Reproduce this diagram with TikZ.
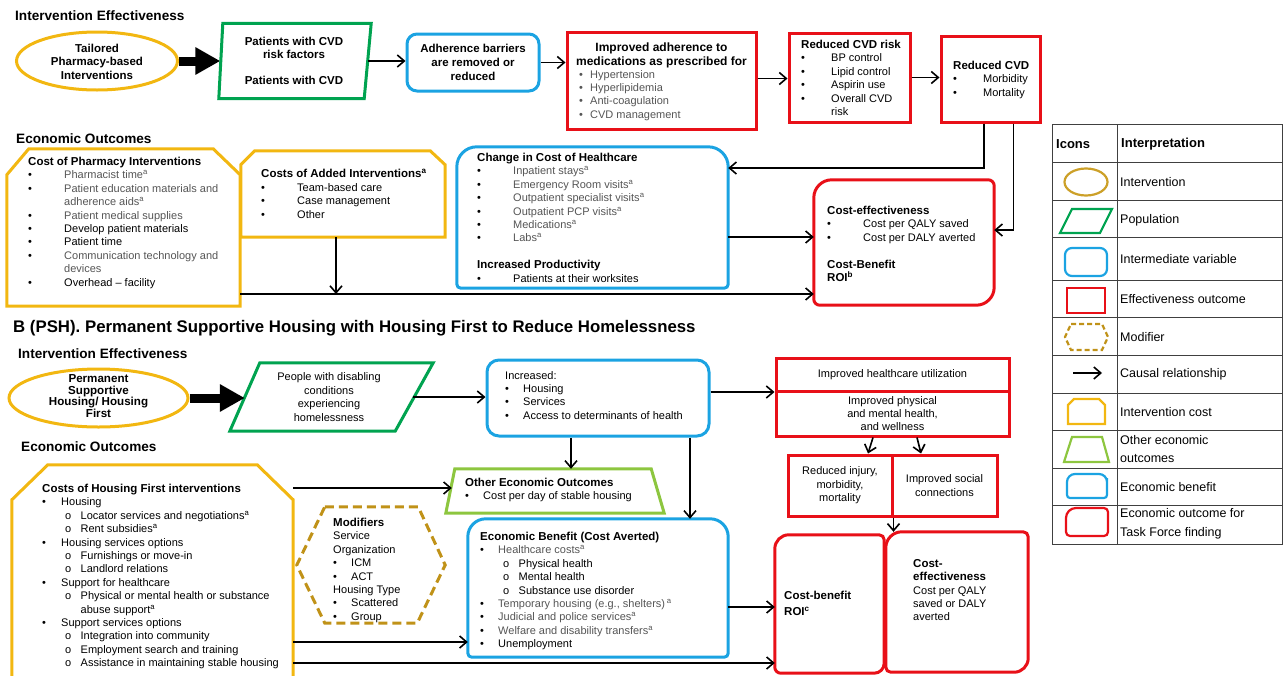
\documentclass[tikz,border=0pt]{standalone}
\usepackage{fontspec}
\setmainfont{Liberation Sans}
\usepackage{xcolor}
\usepackage{tikz}
\usetikzlibrary{shapes.geometric, arrows.meta}

\definecolor{ivncol}{RGB}{242,183,17}
\definecolor{ivnleg}{RGB}{204,160,40}
\definecolor{popcol}{RGB}{0,163,80}
\definecolor{midcol}{RGB}{27,163,226}
\definecolor{effcol}{RGB}{232,16,24}
\definecolor{othcol}{RGB}{141,198,63}
\definecolor{modcol}{RGB}{192,146,24}
\definecolor{txtgray}{RGB}{85,85,85}

\newcommand{\ttl}[1]{{\fontsize{11.5}{13.4}\selectfont\bfseries #1}}
\newcommand{\gr}[1]{\textcolor{txtgray}{#1}}
\newcommand{\bul}[2][36pt]{\makebox[#1][l]{\textbullet}#2}
\newcommand{\subit}[1]{\hspace*{23pt}\makebox[15.5pt][l]{o}#1}
\newcommand{\supa}{\textsuperscript{a}}

\begin{document}
\begin{tikzpicture}[x=1pt, y=-1pt,
  every node/.style={inner sep=0pt, font=\fontsize{11}{13.4}\selectfont},
  sz/.style 2 args={minimum width=#1pt, minimum height=#2pt},
  hdr/.style={anchor=west, font=\fontsize{13.6}{16}\selectfont\bfseries},
  txt/.style={anchor=north west, align=left},
  ivn/.style={ellipse, draw=ivncol, line width=3pt},
  ivntxt/.style={align=center, font=\fontsize{11.5}{13.5}\selectfont\bfseries},
  midbox/.style={rectangle, rounded corners=10pt, draw=midcol, line width=3pt, align=center},
  effbox/.style={rectangle, draw=effcol, line width=3pt, align=center},
  costline/.style={draw=ivncol, line width=3pt},
  popline/.style={draw=popcol, line width=3pt},
  benline/.style={draw=midcol, line width=3pt},
  taskline/.style={draw=effcol, line width=3pt},
  othline/.style={draw=othcol, line width=3pt},
  modline/.style={draw=modcol, line width=3pt, dash pattern=on 9pt off 5pt},
  arr/.style={-{Straight Barb[length=7pt,width=12pt]}, line width=1.6pt},
  fat/.style={-{Triangle[length=25pt,width=26pt]}, line width=9pt},
  legline/.style={draw=black!75, line width=0.8pt},
  legtxt/.style={anchor=west, align=left, font=\fontsize{12.5}{18.5}\selectfont}
]
  \useasboundingbox (0,0) rectangle (1283,675);

  % ── A: intervention effectiveness ─────────────────────────────
  \node[hdr] (effA) at (15,16) {Intervention Effectiveness};
  \node[ivn, sz={161}{58}] (tailored) at (97,61) {};
  \node[ivntxt] (tailoredT) at (97,61.5) {Tailored\\Pharmacy-based\\Interventions};

  \node[sz={147}{75}, align=center, font=\fontsize{11.5}{12.5}\selectfont\bfseries] (popA) at (294,61)
        {Patients with CVD\\risk factors\\[14pt]Patients with CVD};
  \draw[popline] ([xshift=-1.5pt]popA.south west) -- ([xshift=2.5pt]popA.north west)
        -- ([xshift=3.5pt]popA.north east) -- ([xshift=-3.5pt]popA.south east) -- cycle;

  \node[midbox, sz={132}{57}, font=\fontsize{11.5}{14}\selectfont\bfseries] (adh) at (473,62.5)
        {Adherence barriers\\are removed or\\reduced};

  \node[effbox, sz={189}{97}] (med) at (661.5,80.5) {};
  \node[anchor=north, align=center, font=\fontsize{12}{14}\selectfont\bfseries] (medT) at (661.5,43)
        {Improved adherence to\\medications as prescribed for};
  \node[txt, text=txtgray] (medL) at (579,70)
        {\bul[11pt]{Hypertension}\\\bul[11pt]{Hyperlipidemia}\\\bul[11pt]{Anti-coagulation}\\\bul[11pt]{CVD management}};

  \node[effbox, sz={121}{89}] (risk) at (849.5,77.5) {};
  \node[txt] (riskL) at (801,40)
        {\ttl{Reduced CVD risk}\\\bul[30pt]{BP control}\\\bul[30pt]{Lipid control}\\\bul[30pt]{Aspirin use}\\\bul[30pt]{Overall CVD}\\\hspace*{30pt}risk};

  \node[effbox, sz={99}{86}] (cvd) at (990.5,79) {};
  \node[txt] (cvdL) at (953,61) {\ttl{Reduced CVD}\\\bul[30pt]{Morbidity}\\\bul[30pt]{Mortality}};

  % ── A: economic outcomes ──────────────────────────────────────
  \node[hdr] (ecoA) at (16,139) {Economic Outcomes};

  \node[sz={233}{157}] (costph) at (123.5,227.5) {};
  \draw[costline] (costph.south west) -- ([yshift=-26pt]costph.north west)
        -- ([xshift=22pt]costph.north west) -- ([xshift=-27pt]costph.north east)
        -- ([yshift=-26pt]costph.north east) -- (costph.south east) -- cycle;
  \node[txt] (costphL) at (28,157)
        {\ttl{Cost of Pharmacy Interventions}\\
         \bul{\gr{Pharmacist time\supa}}\\
         \bul{\gr{Patient education materials and}}\\
         \hspace*{36pt}\gr{adherence aids\supa}\\
         \bul{\gr{Patient medical supplies}}\\
         \bul{Develop patient materials}\\
         \bul{Patient time}\\
         \bul{\gr{Communication technology and}}\\
         \hspace*{36pt}\gr{devices}\\
         \bul{Overhead -- facility}};

  \node[sz={204}{86}] (costadd) at (343,194) {};
  \draw[costline] (costadd.south west) -- ([yshift=-14pt]costadd.north west)
        -- ([xshift=14pt]costadd.north west) -- ([xshift=-15pt]costadd.north east)
        -- ([yshift=-14pt]costadd.north east) -- (costadd.south east) -- cycle;
  \node[txt] (costaddL) at (261,169)
        {\ttl{Costs of Added Interventions\supa}\\\bul{Team-based care}\\\bul{Case management}\\\bul{Other}};

  \node[sz={271}{141}] (chg) at (592.5,217.5) {};
  \draw[benline] (chg.west) [rounded corners=20pt] |- (chg.north) -| (chg.east)
        [rounded corners=4pt] |- (chg.south) -| (chg.west);
  \node[txt] (chgL) at (477,153)
        {\ttl{Change in Cost of Healthcare}\\
         \bul{\gr{Inpatient stays\supa}}\\
         \bul{\gr{Emergency Room visits\supa}}\\
         \bul{\gr{Outpatient specialist visits\supa}}\\
         \bul{\gr{Outpatient PCP visits\supa}}\\
         \bul{\gr{Medications\supa}}\\
         \bul{\gr{Labs\supa}}\\[13.4pt]
         \ttl{Increased Productivity}\\
         \bul{Patients at their worksites}};

  \node[sz={180}{125}] (ceA) at (904,242.5) {};
  \draw[taskline] (ceA.west) [rounded corners=18pt] |- (ceA.north) [rounded corners=6pt] -| (ceA.east)
        [rounded corners=18pt] |- (ceA.south) [rounded corners=6pt] -| (ceA.west);
  \node[txt] (ceAL) at (827,206)
        {\ttl{Cost-effectiveness}\\\bul{Cost per QALY saved}\\\bul{Cost per DALY averted}\\[13.4pt]
         \ttl{Cost-Benefit}\\\ttl{ROI\textsuperscript{b}}};

  % ── A: arrows ─────────────────────────────────────────────────
  \draw[fat] (tailored.east) -- (tailored.east -| popA.west);
  \draw[arr] (popA.east) -- (popA.east -| adh.west);
  \draw[arr] (adh.east) -- (adh.east -| med.west);
  \draw[arr] ([yshift=2pt]med.east) -- ([yshift=2pt]med.east -| risk.west);
  \draw[arr] (risk.east) -- (risk.east -| cvd.west);
  \draw[arr] ([xshift=-6.5pt]cvd.south) |- ([yshift=49.5pt]chg.east);
  \draw[arr] ([xshift=23pt]cvd.south) |- ([yshift=12.5pt]ceA.east);
  \draw[arr] ([yshift=-19.5pt]chg.east) -- ([yshift=-19.5pt]chg.east -| ceA.west);
  \coordinate (lowA) at ([yshift=-66.5pt]costph.east);
  \draw[arr] (lowA) -- (lowA -| ceA.west);
  \draw[arr] ([xshift=-7pt]costadd.south) -- ([xshift=-7pt]costadd.south |- lowA);

  % ── B: intervention effectiveness ─────────────────────────────
  \node[hdr, font=\fontsize{16.8}{19}\selectfont\bfseries] (titleB) at (13,328)
        {B (PSH). Permanent Supportive Housing with Housing First to Reduce Homelessness};
  \node[hdr] (effB) at (18,354) {Intervention Effectiveness};
  \node[ivn, sz={179}{58}] (housing) at (98.5,398) {};
  \node[ivntxt, font=\fontsize{11.6}{11.7}\selectfont\bfseries] (housingT) at (98.5,396)
        {Permanent\\Supportive\\Housing/ Housing\\First};

  \node[sz={168}{68}, align=center] (popB) at (329,397)
        {People with disabling\\conditions\\experiencing\\homelessness};
  \draw[popline] ([xshift=15pt]popB.north west) -- ([xshift=20pt]popB.north east)
        -- ([xshift=-18pt]popB.south east) -- ([xshift=-15pt]popB.south west) -- cycle;

  \node[midbox, sz={222}{76}, rounded corners=12pt] (incr) at (598,398) {};
  \node[txt] (incrL) at (505,371)
        {Increased:\\\bul[18pt]{Housing}\\\bul[18pt]{Services}\\\bul[18pt]{Access to determinants of health}};

  \node[effbox, sz={233}{33}] (hcu) at (892.5,374.5) {Improved healthcare utilization};
  \node[effbox, sz={233}{45}, font=\fontsize{11}{13}\selectfont] (phys) at (892.5,413.5)
        {Improved physical\\and mental health,\\and wellness};
  \node[effbox, sz={104}{61}] (inj) at (840,485.5) {Reduced injury,\\morbidity,\\mortality};
  \node[effbox, sz={105}{61}] (soc) at (944.5,485.5) {Improved social\\connections};

  % ── B: economic outcomes ──────────────────────────────────────
  \node[hdr] (ecoB) at (21,447) {Economic Outcomes};

  \node[sz={281}{225}] (costhf) at (152.5,577.5) {};
  \draw[costline] (costhf.south west) -- ([yshift=-35pt]costhf.north west)
        -- ([xshift=36pt]costhf.north west) -- ([xshift=-36pt]costhf.north east)
        -- ([yshift=-35pt]costhf.north east) -- (costhf.south east) -- cycle;
  \node[txt] (costhfL) at (42,484)
        {\ttl{Costs of Housing First interventions}\\
         \bul[19pt]{Housing}\\
         \subit{Locator services and negotiations\supa}\\
         \subit{Rent subsidies\supa}\\
         \bul[19pt]{Housing services options}\\
         \subit{Furnishings or move-in}\\
         \subit{Landlord relations}\\
         \bul[19pt]{Support for healthcare}\\
         \subit{Physical or mental health or substance}\\
         \hspace*{38.5pt}abuse support\supa\\
         \bul[19pt]{Support services options}\\
         \subit{Integration into community}\\
         \subit{Employment search and training}\\
         \subit{Assistance in maintaining stable housing}};

  \node[sz={218}{44}] (othe) at (555,491) {};
  \draw[othline] ([xshift=9pt]othe.north west) -- ([xshift=-13pt]othe.north east)
        -- (othe.south east) -- (othe.south west) -- cycle;
  \node[txt] (otheL) at (465,478)
        {\ttl{Other Economic Outcomes}\\\bul[18pt]{Cost per day of stable housing}};

  \node[sz={148}{116}] (mod) at (371,565) {};
  \draw[modline] ([xshift=28pt]mod.north west) -- ([xshift=-27pt]mod.north east) -- (mod.east)
        -- ([xshift=-28pt]mod.south east) -- ([xshift=28pt]mod.south west) -- (mod.west) -- cycle;
  \node[txt] (modL) at (333,518)
        {\ttl{Modifiers}\\Service\\Organization\\\bul[18pt]{ICM}\\\bul[18pt]{ACT}\\
         Housing Type\\\bul[18pt]{Scattered}\\\bul[18pt]{Group}};

  \node[sz={260}{138}] (econ) at (598,588) {};
  \draw[benline] (econ.west) [rounded corners=18pt] |- (econ.north) -| (econ.east)
        [rounded corners=4pt] |- (econ.south) -| (econ.west);
  \node[txt] (econL) at (480,532)
        {\ttl{Economic Benefit (Cost Averted)}\\
         \bul[18pt]{\gr{Healthcare costs\supa}}\\
         \subit{Physical health}\\
         \subit{Mental health}\\
         \subit{Substance use disorder}\\
         \bul[18pt]{\gr{Temporary housing (e.g., shelters)\,\supa}}\\
         \bul[18pt]{\gr{Judicial and police services\supa}}\\
         \bul[18pt]{\gr{Welfare and disability transfers\supa}}\\
         \bul[18pt]{Unemployment}};

  \node[sz={109}{138}] (cb) at (829.5,604) {};
  \draw[taskline] (cb.west) [rounded corners=14pt] |- (cb.north) [rounded corners=5pt] -| (cb.east)
        [rounded corners=10pt] |- (cb.south) [rounded corners=6pt] -| (cb.west);
  \node[txt, font=\fontsize{11.5}{16}\selectfont\bfseries] (cbL) at (784,591)
        {Cost-benefit\\ROI\textsuperscript{c}};

  \node[sz={142}{140}] (ceB) at (957,602) {};
  \draw[taskline] (ceB.west) [rounded corners=16pt] |- (ceB.north) [rounded corners=5pt] -| (ceB.east)
        [rounded corners=14pt] |- (ceB.south) [rounded corners=5pt] -| (ceB.west);
  \node[txt] (ceBL) at (913,559)
        {\ttl{Cost-}\\\ttl{effectiveness}\\Cost per QALY\\saved or DALY\\averted};

  % ── B: arrows ─────────────────────────────────────────────────
  \draw[fat] (housing.east) -- (housing.east -| popB.west);
  \draw[arr] (popB.east) -- (popB.east -| incr.west);
  \draw[arr] ([yshift=6pt]incr.east) -- ([yshift=6pt]incr.east -| hcu.west);
  \draw[arr] ([xshift=-27pt]incr.south) -- ([xshift=-27pt]incr.south |- othe.north);
  \draw[arr] ([xshift=92pt]incr.south) -- ([xshift=92pt]incr.south |- econ.north);
  \draw[arr] ([xshift=-19.5pt]phys.south) -- ([xshift=28pt]inj.north);
  \draw[arr] ([xshift=24.5pt]phys.south) -- ([xshift=-23.5pt]soc.north);
  \draw[arr] (inj.south east) -- (inj.south east |- ceB.north);
  \draw[arr] ([yshift=89.5pt]costhf.east) -- ([xshift=6pt,yshift=3pt]othe.west);
  \draw[arr] ([yshift=-64.5pt]costhf.east) -- ([yshift=-64.5pt]costhf.east -| econ.west);
  \draw[arr] ([yshift=-85.5pt]costhf.east) -- ([yshift=-85.5pt]costhf.east -| cb.west);
  \draw[arr] ([yshift=-19pt]econ.east) -- ([yshift=-19pt]econ.east -| cb.west);

  % ── Legend ────────────────────────────────────────────────────
  \draw[legline] (1052,124) rectangle (1282,544);
  \draw[legline] (1117,124) -- (1117,544);
  \foreach \yy in {162,200,237,280,317,355,393,430,468,505}
    \draw[legline] (1052,\yy) -- (1282,\yy);
  \node[anchor=west, font=\fontsize{13}{15}\selectfont\bfseries] (legH1) at (1056,144) {Icons};
  \node[anchor=west, font=\fontsize{13}{15}\selectfont\bfseries] (legH2) at (1121,144) {Interpretation};
  \foreach \yy/\lab in {182/Intervention, 220/Population, 259/Intermediate variable,
                        299/Effectiveness outcome, 337/Modifier, 374/Causal relationship,
                        412/Intervention cost, 449/{Other economic\\outcomes},
                        487/Economic benefit, 524/{Economic outcome for\\Task Force finding}}
    \node[legtxt] (leg-\yy) at (1120,\yy) {\lab};

  \node[ellipse, draw=ivnleg, line width=2.2pt, sz={43}{27}] (legivn) at (1086,182) {};
  \draw[popline, line width=2.2pt] (1060,233) -- (1072,209) -- (1112,209) -- (1100,233) -- cycle;
  \node[midbox, line width=2.2pt, rounded corners=7pt, sz={42}{28}] (legmid) at (1086,262) {};
  \node[effbox, line width=2.2pt, sz={38}{25}] (legeff) at (1086,300.5) {};
  \draw[modline, line width=2.2pt, dash pattern=on 5pt off 3pt]
        (1071,324) -- (1102,324) -- (1108,337) -- (1102,350) -- (1071,350) -- (1065,337) -- cycle;
  \draw[arr] (1073,373) -- (1102,373);
  \draw[costline, line width=2.2pt] (1068,424) -- (1068,405) -- (1074,399) -- (1099,399)
        -- (1105,405) -- (1105,424) -- cycle;
  \draw[othline, line width=2.2pt] (1072,437) -- (1102,437) -- (1109,462) -- (1064,462) -- cycle;
  \draw[benline, line width=2.2pt] (1067,486) [rounded corners=8pt] |- (1087,474) -| (1107,486)
        [rounded corners=3pt] |- (1087,498) -| (1067,486);
  \draw[taskline, line width=2.2pt] (1066,522) [rounded corners=10pt] |- (1087,508)
        [rounded corners=4pt] -| (1108,522) |- (1087,536) -| (1066,522);

\end{tikzpicture}
\end{document}
